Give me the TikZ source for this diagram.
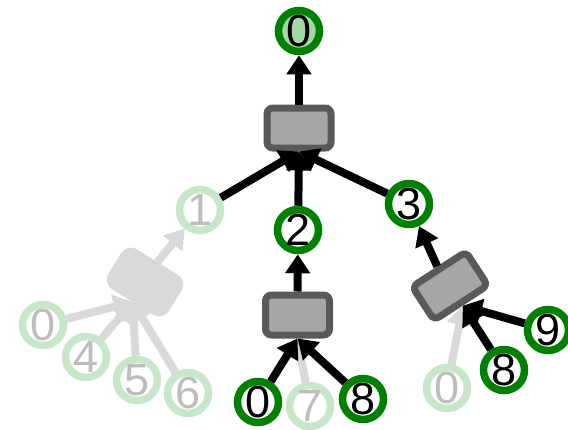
\documentclass[tikz,border=0pt]{standalone}
\usepackage{fontspec}
\setmainfont{Liberation Sans}
\usetikzlibrary{arrows.meta}
\definecolor{okgreen}{HTML}{008000}
\definecolor{okfill}{HTML}{A5D6A7}
\definecolor{fadering}{HTML}{C8E6C9}
\definecolor{fadetext}{HTML}{BDBDBD}
\definecolor{boxfill}{HTML}{A6A6A6}
\definecolor{boxline}{HTML}{595959}
\definecolor{fadegray}{HTML}{D9D9D9}

\begin{document}
\begin{tikzpicture}[x=1pt,y=-1pt,
  val/.style={circle, draw=okgreen, line width=7.5pt, fill=white, minimum size=41pt,
    inner sep=0pt, font=\fontsize{45}{45}\selectfont},
  valfade/.style={val, draw=fadering, text=fadetext},
  op/.style={rectangle, rounded corners=6pt, draw=boxline, fill=boxfill, line width=7pt,
    minimum width=64pt, minimum height=40pt},
  opfade/.style={op, draw=fadegray, fill=fadegray, rounded corners=8pt},
  link/.style={line width=8pt, -{Triangle[length=19pt,width=24pt]}},
  linkfade/.style={link, draw=fadegray}
]
\useasboundingbox (0,0) rectangle (568,429);

% operation boxes
\node[op] (top) at (299,128) {};
\node[op] (mid) at (297.5,315) {};
\node[op, rotate=33] (right) at (450,286) {};
\node[opfade, rotate=-32] (left) at (145,282) {};

% values
\node[val, fill=okfill] (out) at (299,31) {0};
\node[valfade] (n1) at (200,210) {1};
\node[val] (n2) at (298,230) {2};
\node[val] (n3) at (409,204) {3};

\node[val] (m0) at (258,402) {0};
\node[valfade] (m7) at (310,406) {7};
\node[val] (m8) at (363,399) {8};

\node[valfade] (r0) at (447,388) {0};
\node[val] (r8) at (504,370) {8};
\node[val] (r9) at (548,330) {9};

\node[valfade] (l0) at (43,325) {0};
\node[valfade] (l4) at (86,357) {4};
\node[valfade] (l5) at (137,380) {5};
\node[valfade] (l6) at (188,393) {6};

% faded connections
\draw[linkfade] (l0) -- (left.south);
\draw[linkfade] (l4) -- (left.south);
\draw[linkfade] (l5) -- (left.south);
\draw[linkfade] (l6) -- (left.south);
\draw[linkfade] (left.north) -- (n1);
\draw[linkfade] (m7) -- (mid.south);
\draw[linkfade] (r0) -- (right.south);

% active connections
\draw[link] (top.north) -- (out);
\draw[link] (n1) -- (top.south);
\draw[link] (n2) -- (top.south);
\draw[link] (n3) -- (top.south);
\draw[link] (mid.north) -- (n2);
\draw[link] (m0) -- (mid.south);
\draw[link] (m8) -- (mid.south);
\draw[link] (right.north) -- (n3);
\draw[link] (r8) -- (right.south);
\draw[link] (r9) -- (right.south);
\end{tikzpicture}
\end{document}
